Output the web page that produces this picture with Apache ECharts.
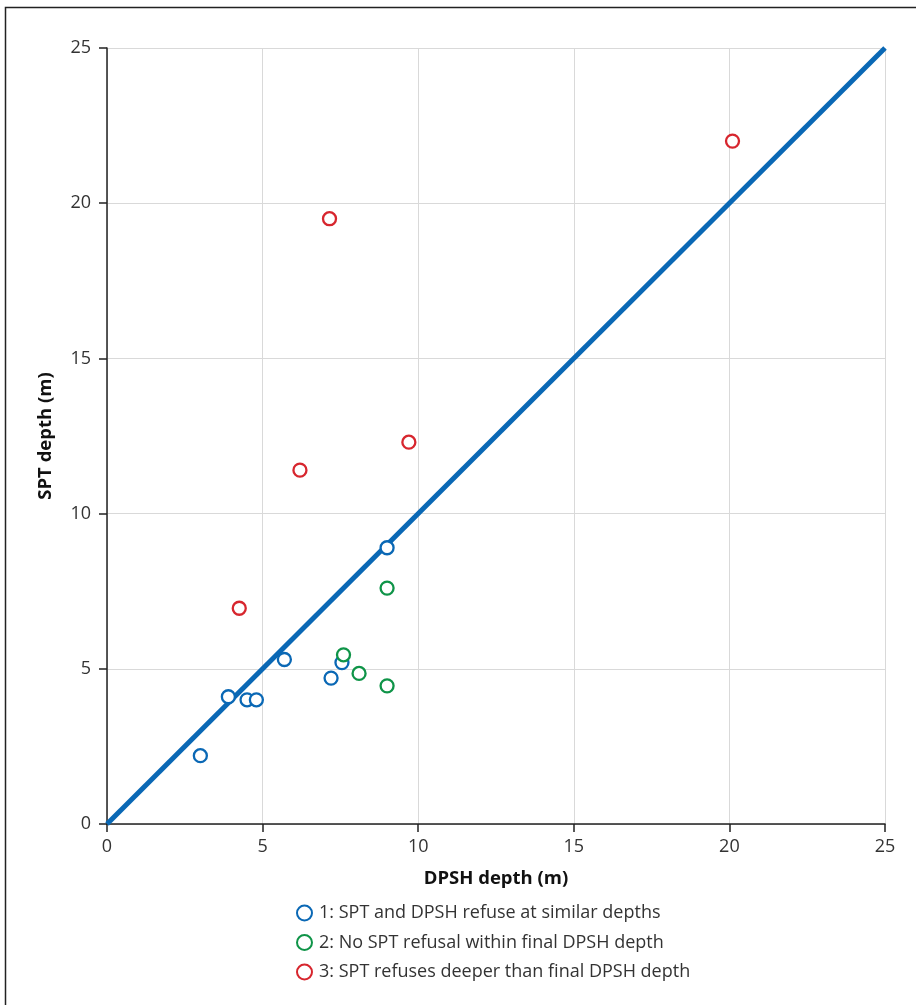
<!DOCTYPE html>
<html>
<head>
<meta charset="utf-8">
<script src="https://cdn.jsdelivr.net/npm/echarts@6/dist/echarts.min.js"></script>
<style>
html,body{margin:0;padding:0;background:#fff;}
#c{width:916px;height:1005px;}
</style>
</head>
<body>
<div id="c"></div>
<script>
const seriesNames = [
  '1: SPT and DPSH refuse at similar depths',
  '2: No SPT refusal within final DPSH depth',
  '3: SPT refuses deeper than final DPSH depth'
];
const group1 = [[3.0,2.2],[3.9,4.1],[4.5,4.0],[4.8,4.0],[5.7,5.3],[7.2,4.7],[7.55,5.2],[9.0,8.9]];
const group2 = [[7.6,5.45],[8.1,4.85],[9.0,7.6],[9.0,4.45]];
const group3 = [[4.25,6.95],[6.2,11.4],[7.15,19.5],[9.7,12.3],[20.1,22.0]];
const lineData = [[0,0],[25,25]];
const colors = ['#0a68b5','#0f9448','#d7262e'];
const axisTicks = {min:0,max:25,interval:5};

const chart = echarts.init(document.getElementById('c'));
const font = 'Open Sans';
function sc(name, data, color){
  return {
    name:name, type:'scatter', data:data, symbol:'circle', symbolSize:13,
    itemStyle:{color:'#fff', borderColor:color, borderWidth:2.3, opacity:1}, z:5
  };
}
chart.setOption({
  animation:false,
  textStyle:{fontFamily:font},
  graphic:[{type:'rect', shape:{x:5.5,y:7.5,width:1000,height:1100}, style:{fill:'none', stroke:'#222', lineWidth:1.5}, z:-1}],
  grid:{left:107, top:48, right:31, bottom:181, containLabel:false},
  xAxis:{
    type:'value', min:axisTicks.min, max:axisTicks.max, interval:axisTicks.interval,
    name:'DPSH depth (m)', nameLocation:'middle', nameGap:45,
    nameTextStyle:{fontFamily:font, fontSize:18.5, fontWeight:'bold', color:'#111'},
    axisLine:{show:true, onZero:false, lineStyle:{color:'#222', width:1.5}},
    axisTick:{show:true, length:8, lineStyle:{color:'#222', width:1.5}},
    axisLabel:{fontFamily:font, fontSize:18, color:'#333', margin:14},
    splitLine:{show:true, lineStyle:{color:'#d9d9d9', width:1}}
  },
  yAxis:{
    type:'value', min:axisTicks.min, max:axisTicks.max, interval:axisTicks.interval,
    name:'SPT depth (m)', nameLocation:'middle', nameGap:52, nameRotate:90,
    nameTextStyle:{fontFamily:font, fontSize:18.5, fontWeight:'bold', color:'#111'},
    axisLine:{show:true, onZero:false, lineStyle:{color:'#222', width:1.5}},
    axisTick:{show:true, length:8, lineStyle:{color:'#222', width:1.5}},
    axisLabel:{fontFamily:font, fontSize:18, color:'#333', margin:16},
    splitLine:{show:true, lineStyle:{color:'#d9d9d9', width:1}}
  },
  legend:{
    orient:'vertical', left:291, top:899, itemGap:11.5,
    itemWidth:15, itemHeight:15, icon:'circle',
    data:seriesNames,
    textStyle:{fontFamily:font, fontSize:18, color:'#333', padding:[0,0,0,2]}
  },
  series:[
    {type:'line', data:lineData, symbol:'none', lineStyle:{color:'#0a68b5', width:5}, z:3, silent:true},
    sc(seriesNames[0], group1, colors[0]),
    sc(seriesNames[1], group2, colors[1]),
    sc(seriesNames[2], group3, colors[2])
  ]
});
</script>
</body>
</html>
